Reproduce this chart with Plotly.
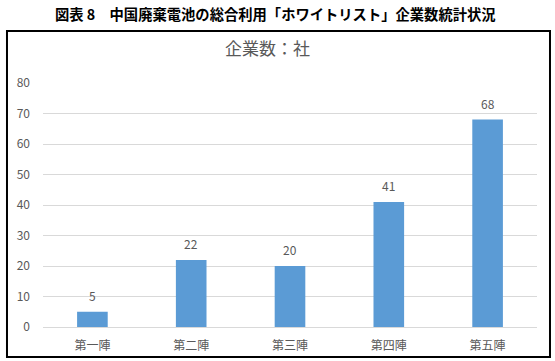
import plotly.graph_objects as go

categories = ["第一陣", "第二陣", "第三陣", "第四陣", "第五陣"]
values = [5, 22, 20, 41, 68]
y_ticks = [0, 10, 20, 30, 40, 50, 60, 70, 80]
outer_title = "図表 8　中国廃棄電池の総合利用「ホワイトリスト」企業数統計状況"
inner_title = "企業数：社"

FONT = "Noto Sans CJK JP"
GRAY = "#595959"

fig = go.Figure()
fig.add_trace(go.Bar(
    x=categories, y=values,
    marker=dict(color="#5B9BD5", line=dict(width=0)),
))

for c, v in zip(categories, values):
    fig.add_annotation(x=c, y=v, text=str(v), showarrow=False,
                       xanchor="center", yanchor="bottom", yshift=6,
                       font=dict(family=FONT, size=12, color=GRAY))

fig.update_layout(
    width=555, height=361,
    margin=dict(l=43, r=18, t=83, b=34),
    paper_bgcolor="white", plot_bgcolor="white",
    bargap=0.69,
    showlegend=False,
    font=dict(family=FONT, color=GRAY, size=12),
    xaxis=dict(showgrid=False, showline=False, ticks="", ticklabelstandoff=10,
               automargin=False,
               tickfont=dict(family=FONT, size=12, color=GRAY)),
    yaxis=dict(range=[0, 80], tickvals=y_ticks, showgrid=True,
               gridcolor="#D9D9D9", gridwidth=1, zeroline=True,
               zerolinecolor="#D9D9D9", zerolinewidth=1,
               showline=False, ticks="", ticklabelstandoff=12,
               automargin=False,
               tickfont=dict(family=FONT, size=12, color=GRAY)),
)

fig.add_shape(type="rect", xref="paper", yref="paper",
              x0=-0.0729, x1=1.0263, y0=-0.123, y1=1.2131,
              line=dict(color="black", width=2), fillcolor="rgba(0,0,0,0)",
              layer="above")

fig.add_annotation(text=outer_title, xref="paper", yref="paper",
                   x=(275 - 43) / 494, y=(327 - 14) / 244, showarrow=False,
                   xanchor="center", yanchor="middle",
                   font=dict(family=FONT, size=14.3, color="black", weight="bold"))
fig.add_annotation(text=inner_title, xref="paper", yref="paper",
                   x=(267 - 43) / 494, y=(327 - 47) / 244, showarrow=False,
                   xanchor="center", yanchor="middle",
                   font=dict(family=FONT, size=17, color=GRAY))

fig.write_html("out.html")
